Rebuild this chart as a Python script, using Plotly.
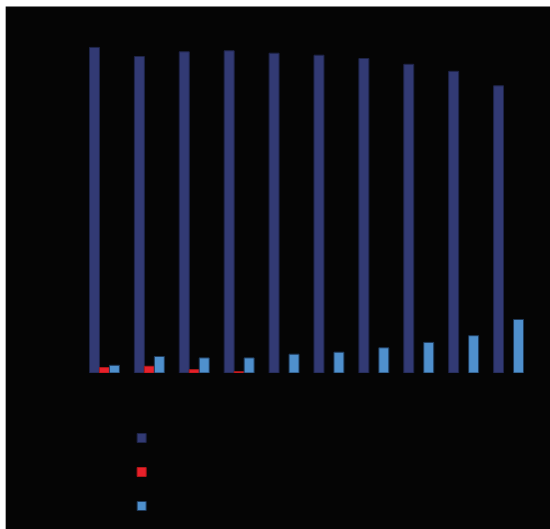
import plotly.graph_objects as go

categories = ["1", "2", "3", "4", "5", "6", "7", "8", "9", "10"]
series_names = ["Series 1", "Series 2", "Series 3"]
series_a = [325.6, 316.5, 321.2, 322.2, 319.8, 317.8, 314.5, 308.7, 301.7, 287.2]
series_b = [5.4, 6.7, 3.3, 1.3, 0, 0, 0, 0, 0, 0]
series_c = [7.7, 16.5, 15.1, 15.1, 18.8, 20.8, 25.2, 30.6, 37.3, 53.5]

colors = ["#323a74", "#e8202a", "#4f90cd"]
outline = ["#1e2448", "#b01818", "#1e3a5a"]
BG = "#050505"

fig = go.Figure()
for name, vals, c, oc in zip(series_names, [series_a, series_b, series_c], colors, outline):
    widths = [1 if v > 0 else 0 for v in vals]
    fig.add_trace(go.Bar(x=categories, y=vals, name=name,
                         marker=dict(color=c, line=dict(color=oc, width=widths)),
                         showlegend=False))
    fig.add_trace(go.Scatter(x=[None], y=[None], mode="markers", name=name, legendgroup=name,
                             marker=dict(symbol="square", size=9, color=c, line=dict(color=oc, width=1))))

fig.update_layout(
    width=550, height=529,
    margin=dict(l=81.5, r=18.5, t=23, b=156, autoexpand=False),
    paper_bgcolor=BG, plot_bgcolor=BG,
    barmode="group", bargap=1/3, bargroupgap=0,
    font=dict(family="Liberation Sans", size=12, color=BG),
    xaxis=dict(showgrid=False, zeroline=False, showline=False, tickfont=dict(color=BG)),
    yaxis=dict(range=[0, 350], showgrid=False, zeroline=False, showline=False, showticklabels=True,
               tickfont=dict(color=BG)),
    legend=dict(orientation="v", x=0.0883, xanchor="left", y=-0.1443, yanchor="top",
                bgcolor="rgba(0,0,0,0)", tracegroupgap=15, font=dict(size=12, color=BG)),
    shapes=[
        dict(type="rect", xref="paper", yref="paper", x0=-0.3, x1=(5 - 81.5) / 450, y0=-0.6, y1=1.2,
             fillcolor="white", line=dict(width=0), layer="above"),
        dict(type="rect", xref="paper", yref="paper", x0=-0.3, x1=1.1, y0=(373 - 6.5) / 350, y1=1.2,
             fillcolor="white", line=dict(width=0), layer="above"),
    ],
)

fig.write_html("out.html", config={"displayModeBar": False},
               post_script="document.body.style.margin='0';")
